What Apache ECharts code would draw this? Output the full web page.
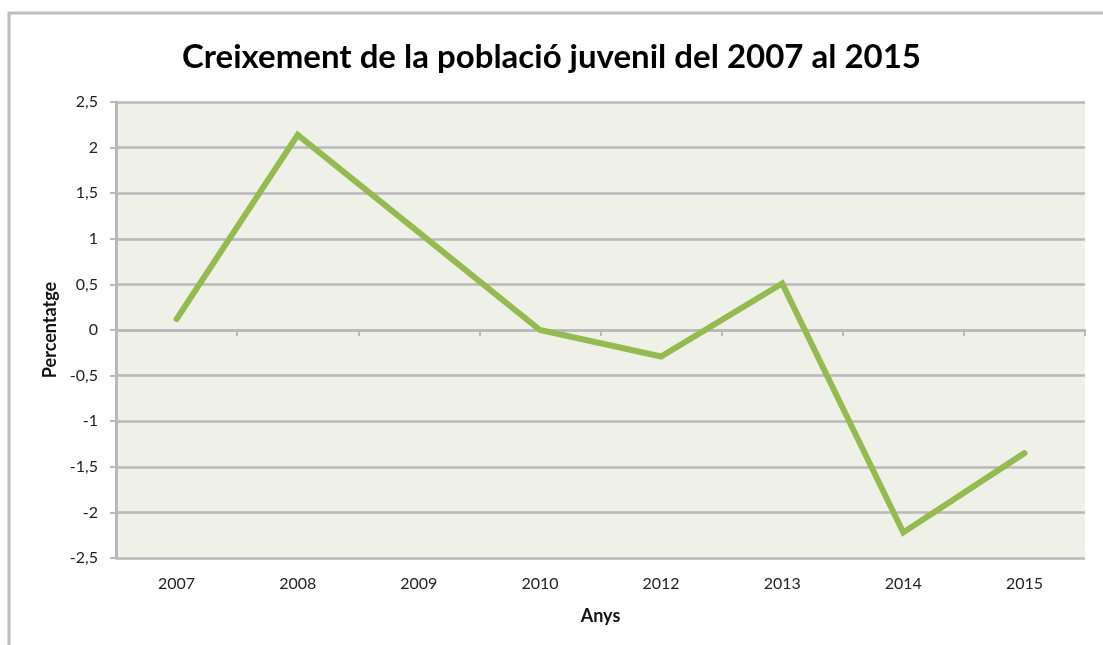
<!DOCTYPE html>
<html>
<head>
<meta charset="utf-8">
<script src="https://cdn.jsdelivr.net/npm/echarts@6/dist/echarts.min.js"></script>
<style>
html,body{margin:0;padding:0;background:#fff;}
#chart{width:1103px;height:645px;}
</style>
</head>
<body>
<div id="chart"></div>
<script>
const titleText = 'Creixement de la població juvenil del 2007 al 2015';
const years = ['2007', '2008', '2009', '2010', '2012', '2013', '2014', '2015'];
const growth = [0.12, 2.14, 1.07, 0.0, -0.29, 0.51, -2.22, -1.35];
const yName = 'Percentatge';
const xName = 'Anys';

const FONT = 'Lato, "Open Sans", sans-serif';
const chart = echarts.init(document.getElementById('chart'), null, {renderer: 'canvas'});
chart.setOption({
  backgroundColor: '#ffffff',
  animation: false,
  title: {
    text: titleText,
    left: 'center',
    top: 36,
    textStyle: {fontFamily: FONT, fontSize: 33, fontWeight: 'bold', color: '#000'}
  },
  graphic: [{
    type: 'rect',
    shape: {x: 9, y: 13, width: 1200, height: 700},
    style: {fill: 'none', stroke: '#bdbdbd', lineWidth: 3},
    silent: true
  }],
  grid: {left: 116, right: 18, top: 102, bottom: 87, show: true, backgroundColor: '#eff1e9', borderWidth: 0},
  xAxis: [{
    type: 'category',
    data: years,
    boundaryGap: true,
    position: 'bottom',
    axisLine: {show: false, onZero: false},
    axisTick: {show: false},
    splitLine: {show: false},
    axisLabel: {fontFamily: FONT, fontSize: 16, color: '#222', margin: 18},
    name: xName,
    nameLocation: 'middle',
    nameGap: 49,
    nameTextStyle: {fontFamily: FONT, fontSize: 18, fontWeight: 'bold', color: '#111'}
  }, {
    type: 'category',
    data: years,
    boundaryGap: true,
    position: 'bottom',
    axisLine: {show: true, onZero: true, lineStyle: {color: '#b9b9b9', width: 2.5}},
    axisTick: {show: true, length: 6, lineStyle: {color: '#b9b9b9', width: 2}},
    axisLabel: {show: false},
    splitLine: {show: false}
  }],
  yAxis: {
    type: 'value',
    min: -2.5,
    max: 2.5,
    interval: 0.5,
    axisLine: {show: true, lineStyle: {color: '#b9b9b9', width: 3}},
    axisTick: {show: true, length: 6, lineStyle: {color: '#b9b9b9', width: 2}},
    splitLine: {show: true, lineStyle: {color: '#b9b9b9', width: 2.5}},
    axisLabel: {
      fontFamily: FONT, fontSize: 16, color: '#222', margin: 18,
      formatter: v => String(Math.round(v * 10) / 10).replace('.', ',')
    },
    name: yName,
    nameLocation: 'middle',
    nameGap: 54,
    nameRotate: 90,
    nameTextStyle: {fontFamily: FONT, fontSize: 18, fontWeight: 'bold', color: '#111'}
  },
  series: [{
    type: 'line',
    xAxisIndex: 0,
    data: growth,
    showSymbol: false,
    symbol: 'none',
    lineStyle: {color: '#93bb4f', width: 6, cap: 'round', join: 'miter'},
    z: 5
  }]
});
</script>
</body>
</html>
